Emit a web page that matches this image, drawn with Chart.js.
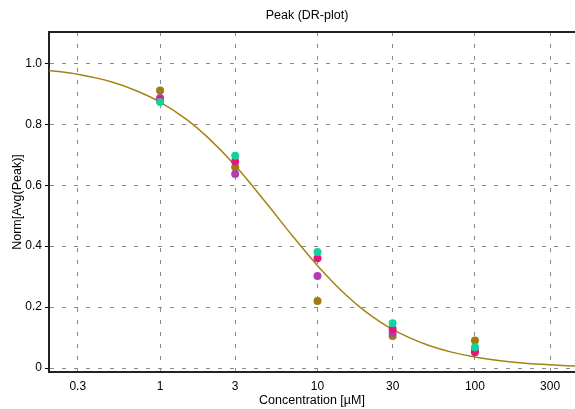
<!DOCTYPE html>
<html>
<head>
<meta charset="utf-8">
<script src="https://cdn.jsdelivr.net/npm/chart.js@4/dist/chart.umd.min.js"></script>
<style>
  body { margin: 0; background: #fff; }
  #wrap { width: 575px; height: 409px; }
</style>
</head>
<body>
<div id="wrap"><canvas id="drplot"></canvas></div>
<script>
// concentrations [uM] of the measured wells
const concentrations = [1, 3, 10, 30, 100];

// normalized peak per replicate
const peakGold   = [0.911, 0.659, 0.220, 0.105, 0.090];
const peakPurple = [0.886, 0.637, 0.302, 0.116, 0.059];
const peakPink   = [0.880, 0.678, 0.360, 0.128, 0.052];
const peakTeal   = [0.873, 0.697, 0.381, 0.147, 0.068];

// fitted curve
const fitX = [0.197, 0.3, 0.5, 0.7, 1, 1.5, 2, 3, 4, 5, 7, 10, 15, 20, 30, 50, 70, 100, 150, 200, 300, 432];
const fitY = [0.977, 0.964, 0.938, 0.911, 0.873, 0.813, 0.758, 0.665, 0.588, 0.526, 0.431, 0.336, 0.242, 0.187, 0.127, 0.0755, 0.053, 0.036, 0.023, 0.0167, 0.0106, 0.0066];

const xTicks = [0.3, 1, 3, 10, 30, 100, 300];
const yTicks = [0, 0.2, 0.4, 0.6, 0.8, 1.0];

const chartTitle = 'Peak (DR-plot)';

const pts = vals => concentrations.map((c, i) => ({ x: c, y: vals[i] }));

function scatter(vals, color) {
    return {
        type: 'scatter',
        data: pts(vals),
        backgroundColor: color,
        borderWidth: 0,
        pointRadius: 4,
        pointHoverRadius: 4
    };
}

// top frame line + title centered over plot area
const frameAndTitle = {
    id: 'frameAndTitle',
    afterDraw(chart) {
        const { ctx, chartArea: a } = chart;
        ctx.save();
        ctx.strokeStyle = '#222';
        ctx.lineWidth = 2;
        ctx.beginPath();
        ctx.moveTo(a.left, a.top);
        ctx.lineTo(a.right, a.top);
        ctx.stroke();
        ctx.fillStyle = '#000';
        ctx.font = '12.5px "Liberation Sans", Arial, sans-serif';
        ctx.textAlign = 'center';
        ctx.textBaseline = 'middle';
        ctx.fillText(chartTitle, 307, 16);
        ctx.restore();
    }
};

Chart.defaults.font.family = '"Liberation Sans", Arial, sans-serif';
Chart.defaults.font.size = 12;
Chart.defaults.color = '#000';

new Chart(document.getElementById('drplot'), {
    type: 'scatter',
    data: {
        datasets: [
            scatter(peakTeal, '#14d2a0'),
            scatter(peakPink, '#e6147d'),
            scatter(peakPurple, '#b43cb4'),
            scatter(peakGold, '#9c7d0e'),
            {
                type: 'line',
                data: fitX.map((x, i) => ({ x: x, y: fitY[i] })),
                borderColor: '#a38412',
                borderWidth: 1.5,
                pointRadius: 0,
                fill: false,
                cubicInterpolationMode: 'monotone'
            }
        ]
    },
    options: {
        responsive: true,
        maintainAspectRatio: false,
        animation: false,
        layout: { autoPadding: false, padding: { top: 32, left: 0, right: 0, bottom: 0 } },
        plugins: {
            legend: { display: false },
            tooltip: { enabled: false },
            title: { display: false }
        },
        scales: {
            x: {
                type: 'logarithmic',
                min: 0.197,
                max: 432,
                afterBuildTicks: s => { s.ticks = xTicks.map(v => ({ value: v })); },
                afterFit: s => { s.height = 37; s.paddingLeft = 0; s.paddingRight = 0; },
                ticks: {
                    callback: v => String(v),
                    padding: 7,
                    maxRotation: 0,
                    autoSkip: false
                },
                grid: { color: '#8a8a8a', lineWidth: 1, drawTicks: false },
                border: { color: '#222', width: 2, dash: [4, 8] },
                title: {
                    display: true,
                    text: 'Concentration [µM]',
                    font: { size: 12.5 },
                    padding: { top: 0, bottom: 1 }
                }
            },
            y: {
                min: -0.013,
                max: 1.103,
                afterBuildTicks: s => { s.ticks = yTicks.map(v => ({ value: v })); },
                afterFit: s => { s.width = 49; s.paddingTop = 0; s.paddingBottom = 0; },
                ticks: {
                    callback: v => v === 0 ? '0' : v.toFixed(1),
                    padding: 3
                },
                grid: { color: '#8a8a8a', lineWidth: 1, drawTicks: true, tickLength: 4, tickColor: '#000' },
                border: { color: '#222', width: 2, dash: [4, 8] },
                title: {
                    display: true,
                    text: 'Norm[Avg(Peak)]',
                    font: { size: 12.5 },
                    padding: { top: 10, bottom: 0 }
                }
            }
        }
    },
    plugins: [frameAndTitle]
});
</script>
</body>
</html>
